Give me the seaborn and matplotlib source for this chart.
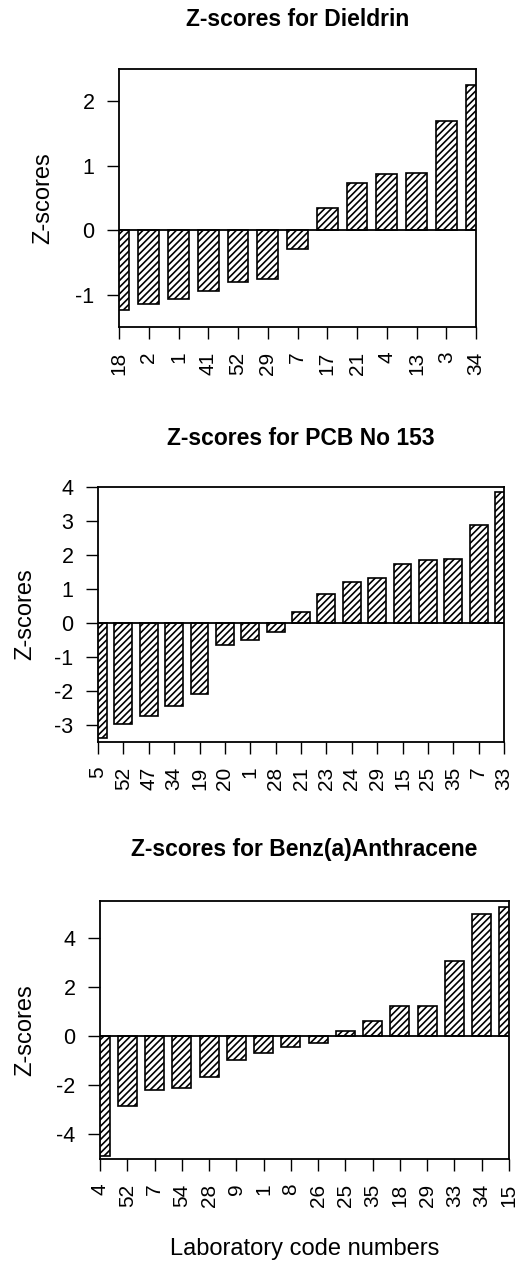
import matplotlib
matplotlib.use("Agg")
import matplotlib.pyplot as plt
import seaborn as sns
import pandas as pd

# ---- data ----
dieldrin_labs = ["18", "2", "1", "41", "52", "29", "7", "17", "21", "4", "13", "3", "34"]
dieldrin_z = [-1.24, -1.15, -1.06, -0.945, -0.81, -0.75, -0.29, 0.34, 0.73, 0.87, 0.88, 1.70, 2.25]

pcb_labs = ["5", "52", "47", "34", "19", "20", "1", "28", "21", "23", "24", "29", "15", "25", "35", "7", "33"]
pcb_z = [-3.37, -2.98, -2.74, -2.43, -2.10, -0.66, -0.49, -0.27, 0.31, 0.84, 1.21, 1.32, 1.73, 1.84, 1.87, 2.89, 3.84]

benz_labs = ["4", "52", "7", "54", "28", "9", "1", "8", "26", "25", "35", "18", "29", "33", "34", "15"]
benz_z = [-4.89, -2.83, -2.21, -2.11, -1.67, -0.98, -0.68, -0.43, -0.29, 0.20, 0.61, 1.22, 1.22, 3.06, 4.96, 5.26]

titles = ["Z-scores for Dieldrin", "Z-scores for PCB No 153", "Z-scores for Benz(a)Anthracene"]
yticks_list = [[-1, 0, 1, 2], [-3, -2, -1, 0, 1, 2, 3, 4], [-4, -2, 0, 2, 4]]
ylims = [(-1.5, 2.5), (-3.5, 4.0), (-5.0, 5.5)]
xlabel_text = "Laboratory code numbers"
ylabel_text = "Z-scores"

sns.set_style("ticks")
plt.rcParams["font.family"] = ["Liberation Sans", "DejaVu Sans"]
plt.rcParams["hatch.linewidth"] = 1.2
for k in ["text.color", "axes.labelcolor", "xtick.color", "ytick.color", "axes.edgecolor"]:
    plt.rcParams[k] = "black"

W, H = 525, 1262
fig = plt.figure(figsize=(W / 100, H / 100), dpi=100)

# axes boxes in pixels: left, right, top, bottom
boxes = [(119, 476, 69, 327), (98, 504, 487, 742), (100, 509, 901, 1159)]
title_base = [26, 445, 856]
ylabel_x = [54, 36, 36]

panels = [(dieldrin_labs, dieldrin_z), (pcb_labs, pcb_z), (benz_labs, benz_z)]

for i, ((labs, vals), (l, r, t, b)) in enumerate(zip(panels, boxes)):
    ax = fig.add_axes([l / W, 1 - b / H, (r - l) / W, (b - t) / H])
    df = pd.DataFrame({"lab": labs, "z": vals})
    sns.barplot(data=df, x="lab", y="z", order=labs, ax=ax, width=0.7,
                color="white", edgecolor="black", linewidth=1.2, saturation=1)
    for p in ax.patches:
        p.set_hatch("/////")
        p.set_facecolor("white")
        p.set_edgecolor("black")
    n = len(labs)
    ax.set_xlim(0, n - 1)
    ax.set_ylim(*ylims[i])
    ax.set_yticks(yticks_list[i])
    ax.set_yticklabels([str(v) for v in yticks_list[i]], fontsize=15.5)
    ax.set_xticks(range(n))
    ax.set_xticklabels(labs, rotation=90, fontsize=15, ha="center", va="top")
    ax.axhline(0, color="black", lw=1.3, zorder=5)
    for s in ax.spines.values():
        s.set_visible(True)
        s.set_linewidth(1.3)
        s.set_color("black")
    ax.tick_params(axis="both", direction="out", length=8.6, width=1.0, color="black")
    ax.tick_params(axis="x", pad=9)
    ax.tick_params(axis="y", pad=9)
    ax.set_xlabel("")
    ax.set_ylabel(ylabel_text, fontsize=17)
    ax.yaxis.set_label_coords((ylabel_x[i] - l) / (r - l), 0.5)
    fig.text((l + r) / 2 / W, 1 - title_base[i] / H, titles[i], ha="center",
             va="baseline", fontsize=16.5, fontweight="bold")

fig.text((100 + 509) / 2 / W, 1 - 1255 / H, xlabel_text, ha="center", va="baseline", fontsize=17)

fig.savefig("out.png", dpi=100)
